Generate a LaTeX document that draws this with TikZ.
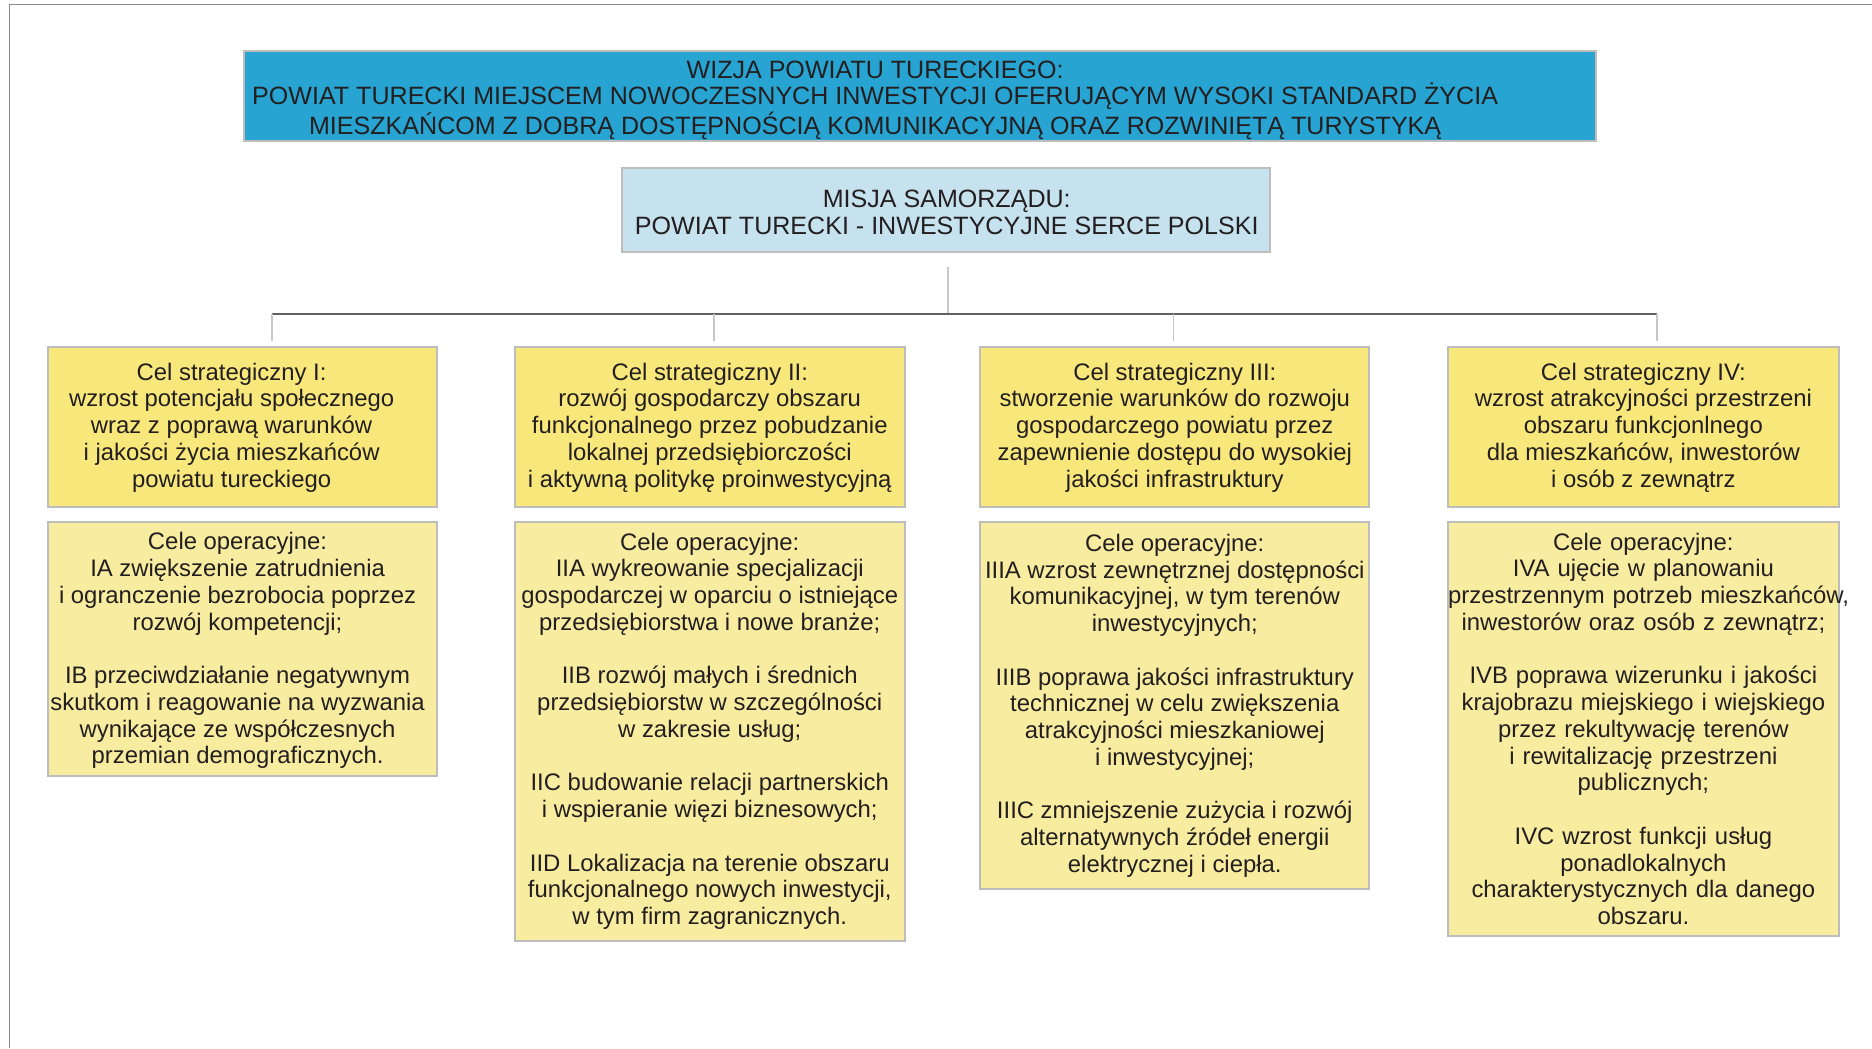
\documentclass[tikz,border=0pt]{standalone}
\usepackage{fontspec}
\setmainfont{Liberation Sans}
\usepackage{xcolor}
\definecolor{wizja}{HTML}{27A4D1}
\definecolor{misja}{HTML}{C6E2EE}
\definecolor{celstr}{HTML}{F8E87B}
\definecolor{celop}{HTML}{F8ECA0}
\definecolor{ramka}{HTML}{BDBDBD}
\definecolor{tekst}{HTML}{231F20}
\begin{document}
\begin{tikzpicture}[x=0.5pt, y=-0.5pt]
\tikzstyle{every node}=[rectangle, inner sep=0pt, align=center, text=tekst,
                        font=\fontsize{10}{11.2}\selectfont]
\tikzstyle{box}=[draw=ramka, line width=0.8pt]
\tikzstyle{duze}=[font=\fontsize{10.5}{11.2}\selectfont]
\tikzstyle{lacznik}=[draw=black!22, line width=0.6pt]
\tikzstyle{szyna}=[draw=black!62, line width=0.6pt]
\useasboundingbox (0,0) rectangle (1568,878);
\draw[black!45, line width=0.6pt] (1568,4) -- (8,4) -- (8,878);
% wizja i misja
\node[box, fill=wizja, minimum width=566.5pt, minimum height=37.5pt] (W) at (770.5,80.5) {};
\node[duze] (WT) at (733,84) {WIZJA POWIATU TURECKIEGO:\\
 POWIAT TURECKI MIEJSCEM NOWOCZESNYCH INWESTYCJI OFERUJĄCYM WYSOKI STANDARD ŻYCIA\\
 MIESZKAŃCOM Z DOBRĄ DOSTĘPNOŚCIĄ KOMUNIKACYJNĄ ORAZ ROZWINIĘTĄ TURYSTYKĄ};
\node[box, fill=misja, minimum width=271.5pt, minimum height=35pt] (M) at (792.5,176) {};
\node[duze] (MT) at (793,178) {MISJA SAMORZĄDU:\\ POWIAT TURECKI - INWESTYCYJNE SERCE POLSKI};
% cele strategiczne
\tikzstyle{cel}=[box, fill=celstr, minimum height=67pt]
\node[cel, minimum width=163pt] (S1) at (203,358) {};
\node (S1T) at (194,358) {Cel strategiczny I:\\
 wzrost potencjału społecznego\\ wraz z poprawą warunków\\
 i jakości życia mieszkańców\\ powiatu tureckiego};
\node[cel, minimum width=163.5pt] (S2) at (594.5,358) {Cel strategiczny II:\\
 rozwój gospodarczy obszaru\\ funkcjonalnego przez pobudzanie\\
 lokalnej przedsiębiorczości\\ i aktywną politykę proinwestycyjną};
\node[cel, minimum width=163pt] (S3) at (984,358) {Cel strategiczny III:\\
 stworzenie warunków do rozwoju\\ gospodarczego powiatu przez\\
 zapewnienie dostępu do wysokiej\\ jakości infrastruktury};
\node[cel, minimum width=163.5pt] (S4) at (1376.5,358) {Cel strategiczny IV:\\
 wzrost atrakcyjności przestrzeni\\ obszaru funkcjonlnego\\
 dla mieszkańców, inwestorów\\ i osób z zewnątrz};
% cele operacyjne
\tikzstyle{op}=[box, fill=celop]
\node[op, minimum width=163pt, minimum height=106.5pt] (O1) at (203,543.5) {};
\node (O1T) at (199,545) {Cele operacyjne:\\
 IA zwiększenie zatrudnienia\\ i ogranczenie bezrobocia poprzez\\ rozwój kompetencji;\\[11.2pt]
 IB przeciwdziałanie negatywnym\\ skutkom i reagowanie na wyzwania\\
 wynikające ze współczesnych\\ przemian demograficznych.};
\node[op, minimum width=163.5pt, minimum height=175.5pt] (O2) at (594.5,612.5) {Cele operacyjne:\\
 IIA wykreowanie specjalizacji\\ gospodarczej w oparciu o istniejące\\
 przedsiębiorstwa i nowe branże;\\[11.2pt]
 IIB rozwój małych i średnich\\ przedsiębiorstw w szczególności\\ w zakresie usług;\\[11.2pt]
 IIC budowanie relacji partnerskich\\ i wspieranie więzi biznesowych;\\[11.2pt]
 IID Lokalizacja na terenie obszaru\\ funkcjonalnego nowych inwestycji,\\
 w tym firm zagranicznych.};
\node[op, minimum width=163pt, minimum height=154pt] (O3) at (984,591) {Cele operacyjne:\\
 IIIA wzrost zewnętrznej dostępności\\ komunikacyjnej, w tym terenów\\
 inwestycyjnych;\\[11.2pt]
 IIIB poprawa jakości infrastruktury\\ technicznej w celu zwiększenia\\
 atrakcyjności mieszkaniowej\\ i inwestycyjnej;\\[11.2pt]
 IIIC zmniejszenie zużycia i rozwój\\ alternatywnych źródeł energii\\
 elektrycznej i ciepła.};
\node[op, minimum width=163.5pt, minimum height=173.5pt, text width=163.5pt] (O4) at (1376.5,610.5) {Cele operacyjne:\\
 IVA ujęcie w planowaniu\\ \mbox{przestrzennym potrzeb mieszkańców,}\\
 inwestorów oraz osób z zewnątrz;\\[11.2pt]
 IVB poprawa wizerunku i jakości\\ krajobrazu miejskiego i wiejskiego\\
 przez rekultywację terenów\\ i rewitalizację przestrzeni\\ publicznych;\\[11.2pt]
 IVC wzrost funkcji usług\\ ponadlokalnych\\
 charakterystycznych dla danego\\ obszaru.};
% polaczenia
\coordinate (MD) at (794,224);
\coordinate (SZ) at (794,263);
\draw[lacznik] (MD) -- (SZ);
\coordinate (L) at (228,263);
\coordinate (P) at (1388,263);
\draw[szyna] (L) -- (P);
\foreach \x/\n in {228/1, 598/2, 983/3, 1388/4}{
  \coordinate (G\n) at (\x,263); \coordinate (D\n) at (\x,286);
  \draw[lacznik] (G\n) -- (D\n);}
\end{tikzpicture}
\end{document}
